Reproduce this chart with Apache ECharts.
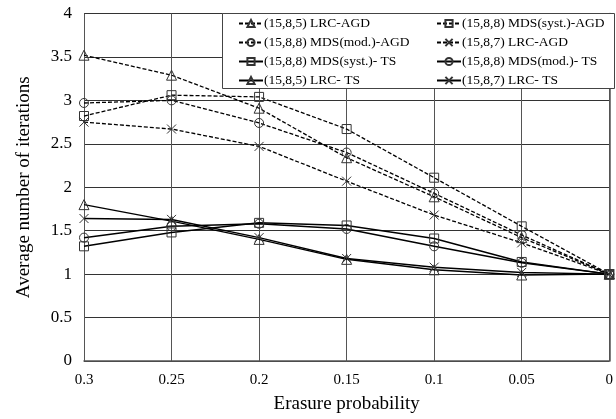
<!DOCTYPE html>
<html><head><meta charset="utf-8">
<script src="https://cdn.jsdelivr.net/npm/echarts@6/dist/echarts.min.js"></script>
<style>html,body{margin:0;padding:0;background:#fff}#c{width:616px;height:419px}</style>
</head><body><div id="c"></div>
<script>
const xValues = [0.3, 0.25, 0.2, 0.15, 0.1, 0.05, 0];
const seriesNames = [
  '(15,8,5) LRC-AGD', '(15,8,8) MDS(syst.)-AGD',
  '(15,8,8) MDS(mod.)-AGD', '(15,8,7) LRC-AGD',
  '(15,8,8) MDS(syst.)- TS', '(15,8,8) MDS(mod.)- TS',
  '(15,8,5) LRC- TS', '(15,8,7) LRC- TS'
];
const lrc5AGD   = [3.52, 3.29, 2.91, 2.34, 1.89, 1.42, 1.0];
const mdsSysAGD = [2.82, 3.06, 3.04, 2.67, 2.11, 1.55, 1.0];
const mdsModAGD = [2.97, 3.00, 2.74, 2.40, 1.93, 1.45, 1.0];
const lrc7AGD   = [2.75, 2.67, 2.47, 2.07, 1.68, 1.36, 1.0];
const mdsSysTS  = [1.32, 1.48, 1.59, 1.56, 1.41, 1.14, 1.0];
const mdsModTS  = [1.42, 1.55, 1.58, 1.52, 1.32, 1.13, 1.0];
const lrc5TS    = [1.80, 1.61, 1.40, 1.17, 1.05, 0.99, 1.0];
const lrc7TS    = [1.64, 1.63, 1.42, 1.18, 1.08, 1.02, 1.0];
const allValues = [lrc5AGD, mdsSysAGD, mdsModAGD, lrc7AGD, mdsSysTS, mdsModTS, lrc5TS, lrc7TS];

const symbols = ['triangle', 'rect', 'circle', 'path://M0,0L10,10M10,0L0,10',
                 'rect', 'circle', 'triangle', 'path://M0,0L10,10M10,0L0,10'];
const dashedFlags = [true, true, true, true, false, false, false, false];
const font = 'Liberation Serif';

const series = allValues.map((vals, i) => ({
  name: seriesNames[i],
  type: 'line',
  data: vals.map((v, j) => [xValues[j], v]),
  symbol: symbols[i],
  symbolSize: symbols[i] === 'triangle' ? 10 : 9,
  showSymbol: true,
  lineStyle: { color: '#000', width: dashedFlags[i] ? 1.3 : 1.5, type: dashedFlags[i] ? [4, 2] : 'solid' },
  itemStyle: { color: 'rgba(255,255,255,0)', borderColor: '#333', borderWidth: 1 },
  z: 3
}));

const legendCommon = {
  orient: 'vertical', top: 16,
  itemWidth: 24, itemHeight: 9, itemGap: 4,
  padding: 0,
  textStyle: { fontFamily: font, fontSize: 13.5, lineHeight: 15, color: '#000', padding: [0, 0, 0, -4] },
  z: 6
};

const chart = echarts.init(document.getElementById('c'), null, { renderer: 'canvas' });
chart.setOption({
  animation: false,
  backgroundColor: '#fff',
  grid: { left: 84, right: 2, top: 13.5, bottom: 57.5, containLabel: false },
  graphic: [{
    type: 'rect', left: 222, top: 13, z: 5,
    shape: { width: 392, height: 75 },
    style: { fill: '#fff', stroke: '#444', lineWidth: 1 }
  }],
  legend: [
    Object.assign({}, legendCommon, { left: 238, data: [seriesNames[0], seriesNames[2], seriesNames[4], seriesNames[6]] }),
    Object.assign({}, legendCommon, { left: 436, data: [seriesNames[1], seriesNames[3], seriesNames[5], seriesNames[7]] })
  ],
  xAxis: {
    type: 'value', min: 0, max: 0.3, interval: 0.05, inverse: true,
    name: 'Erasure probability', nameLocation: 'middle', nameGap: 34,
    nameTextStyle: { fontFamily: font, fontSize: 19, color: '#000' },
    axisLine: { lineStyle: { color: '#555', width: 1.5 } },
    axisTick: { show: false },
    axisLabel: { fontFamily: font, fontSize: 15, color: '#000', margin: 12,
      formatter: v => String(Number(v.toFixed(2))) },
    splitLine: { show: true, lineStyle: { color: '#555', width: 1 } }
  },
  yAxis: {
    type: 'value', min: 0, max: 4, interval: 0.5,
    name: 'Average number of iterations', nameLocation: 'middle', nameGap: 50,
    nameTextStyle: { fontFamily: font, fontSize: 19, color: '#000' },
    axisLine: { show: true, lineStyle: { color: '#555', width: 1.5 } },
    axisTick: { show: false },
    axisLabel: { fontFamily: font, fontSize: 17, color: '#000', margin: 12,
      formatter: v => String(v) },
    splitLine: { show: true, lineStyle: { color: '#333', width: 1 } }
  },
  series: series
});
</script></body></html>
